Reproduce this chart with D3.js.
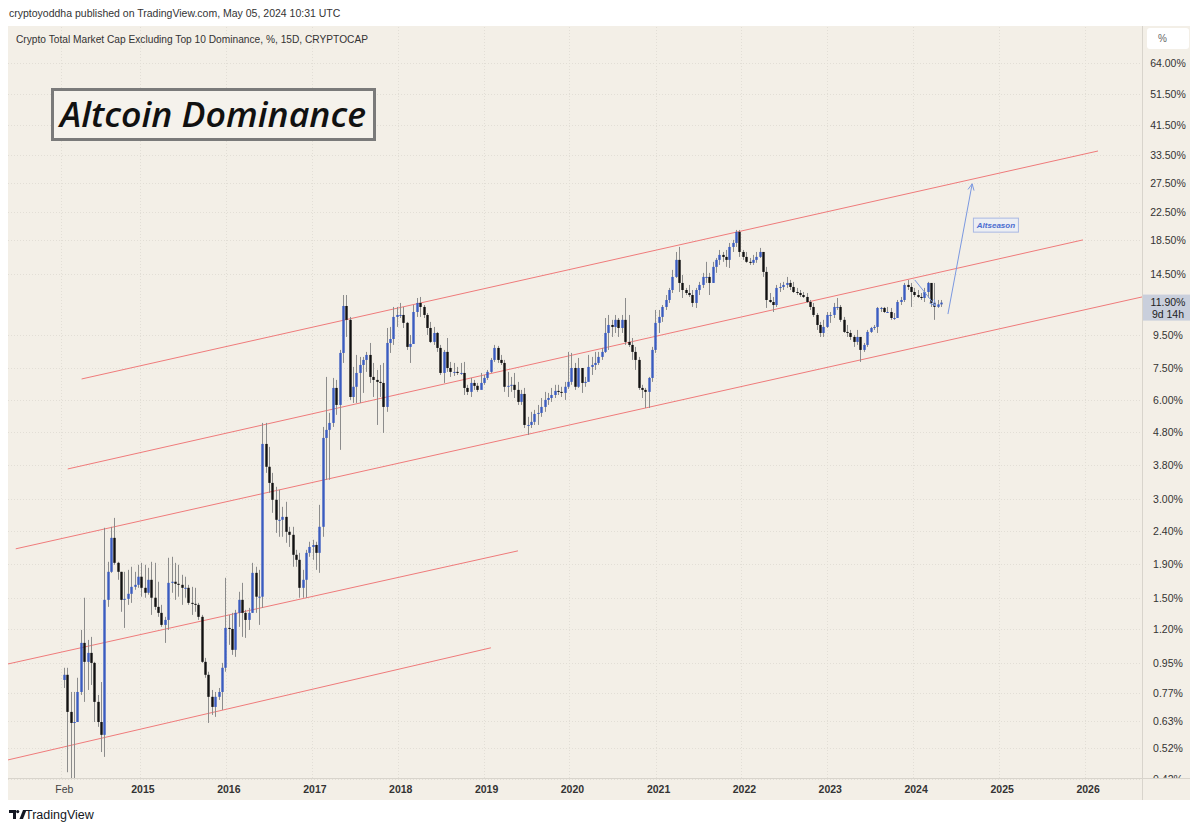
<!DOCTYPE html>
<html><head><meta charset="utf-8">
<script src="https://cdn.jsdelivr.net/npm/d3@7"></script>
<style>
body{margin:0;background:#fff;}
svg{display:block;font-family:"Liberation Sans",Arial,sans-serif;}
</style>
</head><body>
<svg id="chart" width="1200" height="832"></svg>
<script>
// ---------------- DATA ----------------
const headerText = "cryptoyoddha published on TradingView.com, May 05, 2024 10:31 UTC";
const legendText = "Crypto Total Market Cap Excluding Top 10 Dominance, %, 15D, CRYPTOCAP";
const titleText = "Altcoin Dominance";
const firstOpen = 0.841;
const firstBarDate = new Date(2014, 1, 12);
const lastBarDate = new Date(2024, 3, 29);

const closes = [
0.872,0.672,0.622,0.626,0.773,1.091,0.955,1.017,0.948,0.721,
0.626,0.572,1.476,1.797,2.281,1.914,1.797,1.476,1.486,1.540,
1.617,1.64,1.736,1.606,1.551,1.699,1.498,1.405,1.347,1.238,
1.282,1.663,1.676,1.652,1.64,1.606,1.606,1.445,1.435,1.425,
1.310,0.955,0.872,0.747,0.696,0.747,0.773,0.916,1.212,1.203,
1.039,1.347,1.476,1.347,1.282,1.347,1.784,1.509,1.509,4.411,
3.757,3.355,2.979,2.589,2.589,2.643,2.380,2.33,2.025,1.955,
1.606,1.699,2.053,2.140,2.17,2.053,2.465,4.601,4.868,5.112,
6.536,5.80,8.356,11.62,10.54,6.134,6.588,7.261,7.68,7.956,
8.24,7.061,6.914,6.819,6.769,5.720,8.963,9.215,10.76,10.91,
10.91,10.32,8.718,8.899,11.14,11.87,11.54,10.91,9.957,9.029,
9.614,8.655,7.261,8.417,7.519,7.315,7.315,7.261,7.261,6.536,
6.357,6.769,6.633,6.446,6.769,7.011,7.315,7.956,8.655,7.956,
7.789,6.588,6.633,6.68,6.446,5.926,6.266,5.04,5.04,5.150,
5.445,5.484,5.720,6.009,6.089,6.22,6.401,6.357,6.311,6.588,
6.819,7.519,6.588,7.519,6.769,6.819,7.574,7.68,7.789,8.126,
8.417,9.614,10.17,10.03,10.54,9.957,10.54,9.029,8.84,8.417,
7.956,6.536,6.446,6.357,7.011,8.535,10.32,10.76,11.54,12.12,
13.00,14.25,16.06,13.66,13.00,12.73,12.55,11.87,13.00,13.47,
14.25,14.25,13.66,15.29,16.06,16.63,16.40,16.06,17.59,18.09,
19.55,16.98,16.40,15.84,15.73,16.06,16.40,16.98,14.76,12.12,
11.95,11.70,13.19,13.28,13.47,13.66,13.28,12.82,12.73,12.55,
12.38,11.95,11.54,10.91,10.17,9.614,10.03,10.91,10.91,11.54,
11.54,10.54,9.684,9.614,9.349,9.029,9.349,8.535,8.84,9.684,
9.957,10.03,11.46,11.46,11.14,11.14,10.68,10.68,11.95,12.12,
13.47,13.28,12.82,12.55,12.38,12.29,12.82,13.66,11.87,11.55,
11.75,11.90];

const highs = [
0.916,0.916,0.773,0.773,0.854,1.195,1.498,1.114,1.138,0.955,
0.757,0.829,2.448,1.928,2.465,2.624,1.928,1.797,1.797,1.822,
1.862,1.797,1.888,1.914,1.888,1.848,1.928,1.914,1.676,1.425,
1.310,1.983,1.997,1.914,1.888,1.76,1.736,1.64,1.617,1.606,
1.445,1.328,0.982,0.891,0.784,0.773,0.795,0.948,1.723,1.328,
1.347,1.376,1.562,1.663,1.376,1.395,1.914,1.862,1.822,5.112,
5.112,4.320,3.600,3.264,3.195,2.836,2.938,2.465,2.465,2.097,
2.053,1.822,2.097,2.219,2.25,2.219,2.876,4.970,7.061,5.486,
7.011,6.914,8.535,12.55,12.55,10.76,7.574,8.24,8.126,8.126,
8.417,8.963,7.789,7.417,7.68,7.789,9.957,10.03,11.54,11.54,
11.87,11.54,10.39,9.48,11.70,12.29,12.38,11.70,11.06,10.39,
10.03,9.684,8.84,8.535,9.281,7.846,7.789,7.574,7.789,7.846,
6.68,7.011,6.914,6.769,7.261,7.16,7.417,8.067,8.84,8.778,
8.24,7.956,7.315,7.061,7.261,6.819,6.446,6.536,5.335,5.525,
5.602,5.80,6.089,6.357,6.311,6.536,6.68,6.68,6.588,6.819,
8.417,8.356,7.789,8.067,7.417,7.061,8.24,8.126,8.417,8.417,
8.655,10.68,10.91,10.54,10.91,10.68,10.91,12.29,10.91,9.281,
8.718,8.126,6.68,6.536,7.061,8.718,11.30,11.30,11.70,12.55,
13.19,14.97,16.98,17.59,14.45,13.19,13.47,13.00,13.19,13.76,
14.66,15.84,14.66,15.84,16.28,17.22,16.98,17.22,18.09,18.48,
19.82,19.82,17.22,16.98,16.28,16.63,16.98,17.47,16.98,15.29,
12.73,12.38,13.47,13.66,13.76,14.25,13.95,13.76,13.19,13.00,
12.82,12.73,12.12,11.87,11.06,10.39,10.54,11.14,11.14,11.87,
12.29,11.70,10.76,10.17,9.82,9.48,9.82,9.349,8.963,9.82,
10.03,10.17,11.54,11.54,11.54,11.54,11.46,11.06,12.12,12.38,
13.66,13.95,13.66,13.19,13.00,12.73,13.19,13.76,13.28,13.66,
12.12,12.12];

const lows = [
0.795,0.44,0.41,0.41,0.626,0.757,0.721,0.784,0.812,0.626,
0.605,0.507,0.490,1.405,1.784,1.888,1.699,1.357,1.212,1.425,
1.445,1.584,1.606,1.509,1.498,1.53,1.328,1.376,1.310,1.221,
1.091,1.195,1.551,1.476,1.509,1.425,1.498,1.425,1.328,1.357,
1.282,0.948,0.854,0.622,0.658,0.649,0.731,0.6815,0.891,1.076,
1.003,0.989,1.221,1.138,1.130,1.195,1.347,1.347,1.238,1.395,
3.600,3.128,2.719,2.362,2.298,2.298,2.203,2.140,1.862,1.862,
1.498,1.498,1.498,1.997,1.955,1.822,1.784,2.298,3.427,3.427,
4.970,5.41,4.231,7.789,9.349,6.009,5.883,5.883,5.883,6.311,
7.315,6.769,6.134,5.04,6.134,4.766,5.525,8.356,8.84,10.03,
10.68,9.957,8.535,7.789,9.82,10.76,10.76,10.68,9.48,8.963,
8.84,8.417,7.16,6.769,7.315,7.061,7.110,7.16,7.16,6.22,
6.22,6.134,6.446,6.357,6.536,6.68,6.914,7.261,7.846,7.789,
7.68,6.357,6.134,6.357,6.089,5.80,5.80,4.934,4.70,4.934,
5.04,5.04,5.335,5.525,5.80,5.926,6.089,6.22,6.134,6.009,
6.491,6.68,6.446,6.536,6.311,6.588,7.061,7.16,7.417,7.68,
7.956,8.356,8.535,9.349,9.614,9.349,9.614,8.84,8.718,7.956,
7.417,6.446,6.089,5.678,5.678,6.819,8.356,9.614,10.39,11.30,
11.87,12.73,14.15,12.82,12.29,12.55,12.38,11.54,11.46,12.55,
13.19,13.66,12.55,13.66,14.66,15.50,15.84,15.29,15.17,16.98,
17.59,16.40,16.06,15.73,15.50,15.50,15.73,16.28,14.25,11.46,
11.87,11.14,11.54,12.82,13.00,13.19,13.00,12.73,12.55,12.38,
12.29,11.87,11.30,10.76,9.82,9.349,9.349,9.957,10.32,10.68,
11.30,10.39,9.614,9.349,9.155,8.718,8.84,7.846,8.417,8.718,
9.614,9.82,9.614,11.14,11.06,11.06,10.54,10.54,11.14,11.70,
11.95,13.00,11.54,12.38,12.29,12.12,11.95,12.29,11.54,10.54,
11.46,11.54];

const priceTicks = [64, 51.5, 41.5, 33.5, 27.5, 22.5, 18.5, 14.5, 9.5, 7.5, 6.0, 4.8, 3.8, 3.0, 2.4, 1.9, 1.5, 1.2, 0.95, 0.77, 0.63, 0.52, 0.42];
const priceTickLabels = ["64.00%","51.50%","41.50%","33.50%","27.50%","22.50%","18.50%","14.50%","9.50%","7.50%","6.00%","4.80%","3.80%","3.00%","2.40%","1.90%","1.50%","1.20%","0.95%","0.77%","0.63%","0.52%","0.42%"];
const timeTicks = [new Date(2014,1,1), new Date(2015,0,1), new Date(2016,0,1), new Date(2017,0,1), new Date(2018,0,1), new Date(2019,0,1), new Date(2020,0,1), new Date(2021,0,1), new Date(2022,0,1), new Date(2023,0,1), new Date(2024,0,1), new Date(2025,0,1), new Date(2026,0,1)];
const timeTickLabels = ["Feb","2015","2016","2017","2018","2019","2020","2021","2022","2023","2024","2025","2026"];

// channel trend lines: [date, value] start and end points
const channelStarts = [[new Date(2014,3,28), 6.96], [new Date(2014,1,28), 3.70], [new Date(2013,6,22), 2.112], [new Date(2013,5,19), 0.941], [new Date(2013,5,19), 0.4797]];
const channelEnds   = [[new Date(2026,1,25), 34.5], [new Date(2025,11,23), 18.48], [new Date(2026,7,31), 12.38], [new Date(2019,4,27), 2.082], [new Date(2019,1,1), 1.054]];

const smallArrow = [[new Date(2024,0,8), 13.95], [new Date(2024,3,6), 11.62]];
const bigArrow = [[new Date(2024,4,28), 10.98], [new Date(2024,8,8), 27.4]];
const noteLabel = {text: "Altseason", date: new Date(2024,11,18), value: 20.5};
const lastPrice = 11.90, lastPriceLabel = "11.90%", countdownLabel = "9d 14h";

// ---------------- LAYOUT ----------------
const plot = {left: 8, right: 1142, top: 27, bottom: 778};
const panel = {left: 8, right: 1190, top: 26, bottom: 800};

const svg = d3.select("#chart");
const bg = "#f3efe7";

const x = d3.scaleTime().domain([new Date(2013,5,19), new Date(2026,7,31)]).range([plot.left, plot.right]);
const y = d3.scaleLog().domain([0.4225, 82.4]).range([plot.bottom, plot.top]);

svg.append("rect").attr("x", panel.left).attr("y", panel.top).attr("width", panel.right - panel.left).attr("height", panel.bottom - panel.top).attr("fill", bg);

// header
svg.append("text").attr("x", 9).attr("y", 17).attr("font-size", 10.5).attr("fill", "#333").text(headerText);

const defs = svg.append("defs");
defs.append("clipPath").attr("id", "plotclip").append("rect")
  .attr("x", plot.left).attr("y", plot.top).attr("width", plot.right - plot.left).attr("height", plot.bottom - plot.top);
defs.append("clipPath").attr("id", "axisclip").append("rect")
  .attr("x", plot.right).attr("y", plot.top).attr("width", 60).attr("height", plot.bottom - plot.top);

// grid
const grid = svg.append("g");
grid.selectAll("line.h").data(priceTicks).join("line")
  .attr("x1", plot.left).attr("x2", plot.right)
  .attr("y1", d => Math.round(y(d)) + 0.5).attr("y2", d => Math.round(y(d)) + 0.5)
  .attr("stroke", "#e2ded6").attr("stroke-dasharray", "1,2");
grid.selectAll("line.v").data(timeTicks).join("line")
  .attr("y1", plot.top).attr("y2", plot.bottom)
  .attr("x1", d => Math.round(x(d)) + 0.5).attr("x2", d => Math.round(x(d)) + 0.5)
  .attr("stroke", "#e2ded6").attr("stroke-dasharray", "1,2");

svg.append("line").attr("x1", panel.left).attr("x2", panel.right).attr("y1", plot.bottom + 0.5).attr("y2", plot.bottom + 0.5).attr("stroke", "#d8d4cc");
svg.append("line").attr("x1", plot.right + 0.5).attr("x2", plot.right + 0.5).attr("y1", panel.top).attr("y2", panel.bottom).attr("stroke", "#d8d4cc");

const g = svg.append("g").attr("clip-path", "url(#plotclip)");

// channel lines
g.selectAll("line.ch").data(channelStarts).join("line")
  .attr("x1", d => x(d[0])).attr("y1", d => y(d[1]))
  .attr("x2", (d, i) => x(channelEnds[i][0])).attr("y2", (d, i) => y(channelEnds[i][1]))
  .attr("stroke", "#ef7b7b").attr("stroke-width", 1);

// candles
const n = closes.length;
const barDate = d3.scaleLinear().domain([0, n - 1]).range([firstBarDate.getTime(), lastBarDate.getTime()]);
const bars = closes.map((c, i) => ({
  date: new Date(barDate(i)),
  open: i === 0 ? firstOpen : closes[i - 1],
  close: c, high: highs[i], low: lows[i]
}));
const bw = 2.4;
const cg = g.append("g");
cg.selectAll("line.wick").data(bars).join("line")
  .attr("x1", d => Math.round(x(d.date)) + 0.5).attr("x2", d => Math.round(x(d.date)) + 0.5)
  .attr("y1", d => y(d.high)).attr("y2", d => y(d.low))
  .attr("stroke", "#8c8c8c").attr("stroke-width", 1);
cg.selectAll("rect.body").data(bars).join("rect")
  .attr("x", d => Math.round(x(d.date)) + 0.5 - bw / 2)
  .attr("width", bw)
  .attr("y", d => y(Math.max(d.open, d.close)))
  .attr("height", d => Math.max(1, Math.abs(y(d.open) - y(d.close))))
  .attr("fill", d => d.close >= d.open ? "#3a5cc0" : "#111");

// arrows
const arrowColor = "#7b98e0";
function drawArrow(pts) {
  const x1 = x(pts[0][0]), y1 = y(pts[0][1]), x2 = x(pts[1][0]), y2 = y(pts[1][1]);
  g.append("line").attr("x1", x1).attr("y1", y1).attr("x2", x2).attr("y2", y2).attr("stroke", arrowColor).attr("stroke-width", 1);
  const ang = Math.atan2(y2 - y1, x2 - x1);
  const L = 7, a = 0.45;
  const p = `M${x2 - L * Math.cos(ang - a)},${y2 - L * Math.sin(ang - a)}L${x2},${y2}L${x2 - L * Math.cos(ang + a)},${y2 - L * Math.sin(ang + a)}`;
  g.append("path").attr("d", p).attr("fill", "none").attr("stroke", arrowColor).attr("stroke-width", 1);
}
drawArrow(smallArrow);
drawArrow(bigArrow);

// note label
const nl = g.append("g").attr("transform", `translate(${x(noteLabel.date)},${y(noteLabel.value)})`);
nl.append("rect").attr("x", -22.5).attr("y", -7).attr("width", 45).attr("height", 14).attr("fill", "#eceef3").attr("stroke", "#a9b8e3").attr("stroke-width", 1);
nl.append("text").attr("text-anchor", "middle").attr("y", 3).attr("font-size", 8).attr("font-weight", "bold").attr("font-style", "italic").attr("fill", "#4a6cd0").text(noteLabel.text);

// legend
svg.append("text").attr("x", 16).attr("y", 43).attr("font-size", 10.2).attr("fill", "#333").text(legendText);

// title box
svg.append("rect").attr("x", 52.5).attr("y", 89.5).attr("width", 322).attr("height", 50).attr("fill", "#f5f2ec").attr("stroke", "#7a7a7a").attr("stroke-width", 3);
svg.append("text").attr("x", 60).attr("y", 127).attr("font-family", "'Open Sans', sans-serif").attr("font-size", 34).attr("font-style", "italic").attr("font-weight", 600).attr("fill", "#111")
  .attr("textLength", 306).attr("lengthAdjust", "spacingAndGlyphs").text(titleText);

// price axis labels (clipped at the time axis like the original)
svg.append("g").attr("clip-path", "url(#axisclip)").selectAll("text").data(priceTicks).join("text")
  .attr("x", 1168).attr("y", d => y(d) + 4).attr("text-anchor", "middle")
  .attr("font-size", 10.5).attr("fill", "#333")
  .text((d, i) => priceTickLabels[i]);

// "%" box
svg.append("rect").attr("x", 1147).attr("y", 28).attr("width", 42).attr("height", 21).attr("rx", 3).attr("fill", "#fff");
svg.append("text").attr("x", 1158).attr("y", 42).attr("font-size", 10).attr("fill", "#666").text("%");

// last price label
const ly = y(lastPrice);
svg.append("rect").attr("x", 1143).attr("y", ly - 8).attr("width", 47).attr("height", 26).attr("fill", "#c9cfdc");
svg.append("text").attr("x", 1168).attr("y", ly + 3.5).attr("text-anchor", "middle").attr("font-size", 10.5).attr("fill", "#222").text(lastPriceLabel);
svg.append("text").attr("x", 1168).attr("y", ly + 15).attr("text-anchor", "middle").attr("font-size", 10.5).attr("fill", "#222").text(countdownLabel);

// time axis labels
svg.append("g").selectAll("text").data(timeTicks).join("text")
  .attr("x", d => x(d) + 3).attr("y", 793).attr("text-anchor", "middle")
  .attr("font-size", 10.5).attr("font-weight", (d, i) => i === 0 ? "normal" : "bold").attr("fill", (d, i) => i === 0 ? "#444" : "#333")
  .text((d, i) => timeTickLabels[i]);

// TradingView logo
const logo = svg.append("g").attr("transform", "translate(9,810)");
logo.append("path").attr("d", "M0,0H7V9H4V3H0Z").attr("fill", "#131722");
logo.append("circle").attr("cx", 8.7).attr("cy", 1.6).attr("r", 1.6).attr("fill", "#131722");
logo.append("path").attr("d", "M10.5,9L14,0H17.5L14,9Z").attr("fill", "#131722");
svg.append("text").attr("x", 25).attr("y", 819).attr("font-size", 12.5).attr("fill", "#131722").text("TradingView");
</script>
</body></html>
